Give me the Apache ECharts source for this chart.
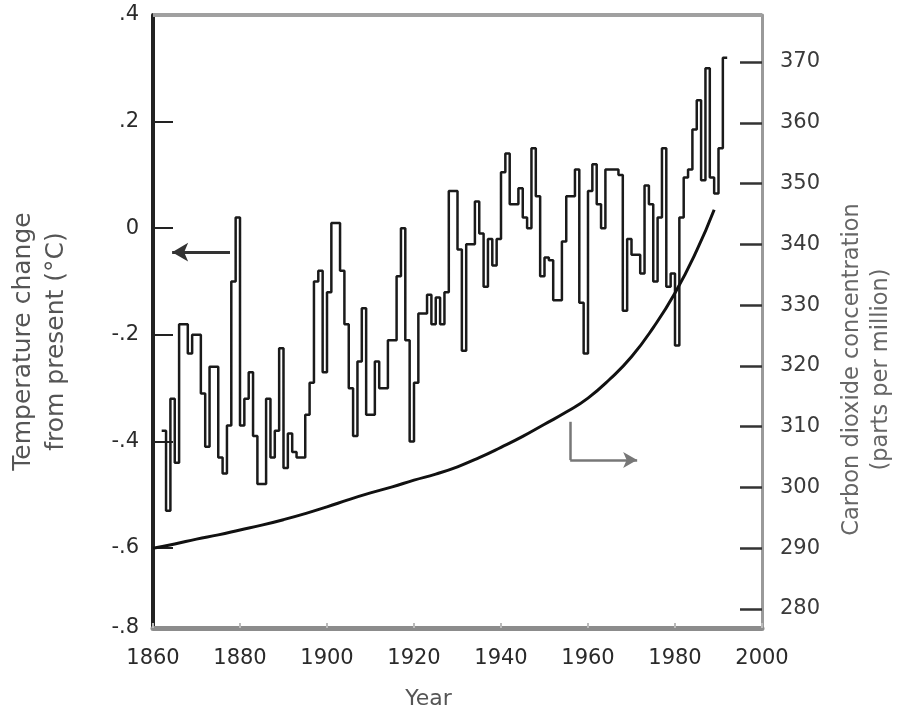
<!DOCTYPE html>
<html>
<head>
<meta charset="utf-8">
<script src="https://cdn.jsdelivr.net/npm/echarts@6/dist/echarts.min.js"></script>
<style>
html,body{margin:0;padding:0;background:#fff;}
#chart{width:900px;height:724px;}
</style>
</head>
<body>
<div id="chart"></div>
<script>
// ---- data ----
const tempYears = [
1862,1863,1864,1865,1866,1867,1868,1869,1870,1871,1872,1873,1874,1875,1876,1877,1878,1879,1880,
1881,1882,1883,1884,1885,1886,1887,1888,1889,1890,1891,1892,1893,1894,1895,1896,1897,1898,1899,1900,
1901,1902,1903,1904,1905,1906,1907,1908,1909,1910,1911,1912,1913,1914,1915,1916,1917,1918,1919,1920,
1921,1922,1923,1924,1925,1926,1927,1928,1929,1930,1931,1932,1933,1934,1935,1936,1937,1938,1939,1940,
1941,1942,1943,1944,1945,1946,1947,1948,1949,1950,1951,1952,1953,1954,1955,1956,1957,1958,1959,1960,
1961,1962,1963,1964,1965,1966,1967,1968,1969,1970,1971,1972,1973,1974,1975,1976,1977,1978,1979,1980,
1981,1982,1983,1984,1985,1986,1987,1988,1989,1990,1991,1992];
const tempChange = [
-0.38,-0.53,-0.32,-0.44,-0.18,-0.18,-0.235,-0.20,-0.20,-0.31,-0.41,-0.26,-0.26,-0.43,-0.46,-0.37,-0.10,0.02,-0.37,
-0.32,-0.27,-0.39,-0.48,-0.48,-0.32,-0.43,-0.38,-0.225,-0.45,-0.385,-0.42,-0.43,-0.43,-0.35,-0.29,-0.10,-0.08,-0.27,-0.12,
0.01,0.01,-0.08,-0.18,-0.30,-0.39,-0.25,-0.15,-0.35,-0.35,-0.25,-0.30,-0.30,-0.21,-0.21,-0.09,0.0,-0.21,-0.40,-0.29,
-0.16,-0.16,-0.125,-0.18,-0.13,-0.18,-0.12,0.07,0.07,-0.04,-0.23,-0.03,-0.03,0.05,-0.01,-0.11,-0.02,-0.07,-0.02,0.105,
0.14,0.045,0.045,0.075,0.02,0.0,0.15,0.06,-0.09,-0.055,-0.06,-0.135,-0.135,-0.025,0.06,0.06,0.11,-0.14,-0.235,0.07,
0.12,0.045,0.0,0.11,0.11,0.11,0.10,-0.155,-0.02,-0.05,-0.05,-0.085,0.08,0.045,-0.10,0.02,0.15,-0.11,-0.085,-0.22,
0.02,0.095,0.11,0.185,0.24,0.09,0.30,0.095,0.065,0.15,0.32,0.32];

const co2Years = [1860,1865,1870,1875,1880,1885,1890,1895,1900,1905,1910,1915,1920,1925,1930,1935,1940,1945,1950,1955,1960,1965,1970,1975,1980,1985,1989];
const co2Ppm   = [290.0,290.7,291.5,292.2,293.0,293.8,294.7,295.7,296.8,298.0,299.1,300.1,301.2,302.2,303.4,304.9,306.6,308.4,310.4,312.4,314.7,317.8,321.5,326.3,332.0,339.0,345.7];

const yearTicks = [1860,1880,1900,1920,1940,1960,1980,2000];
const leftTickValues = [0.4,0.2,0,-0.2,-0.4,-0.6,-0.75];
const leftTickLabels = ['.4','.2','0','-.2','-.4','-.6','-.8'];
const rightTickValues = [280,290,300,310,320,330,340,350,360,370];

// annotation arrows (in data units)
const leftArrow = {from:[1877.7,-0.045], to:[1864.4,-0.045]};
const rightArrow = {corner:[1955.9,304.5], top:[1955.9,310.8], tip:[1971.3,304.5]};

const chart = echarts.init(document.getElementById('chart'), null, {renderer:'canvas'});
const FONT = 'DejaVu Sans';
const labelColor = '#2a2a2a';

const option = {
  backgroundColor:'#fff',
  animation:false,
  grid:{left:153,right:138,top:15,bottom:96,show:false,containLabel:false,outerBoundsMode:'none'},
  xAxis:{
    type:'value',min:1860,max:2000,
    axisLabel:{customValues:yearTicks,fontFamily:FONT,fontSize:21,color:labelColor,margin:20,
      formatter:function(v){return String(v);}},
    axisTick:{customValues:yearTicks,inside:true,length:5,lineStyle:{color:'#bbb',width:2}},
    axisLine:{onZero:false,lineStyle:{color:'#8c8c8c',width:5}},
    splitLine:{show:false},
    name:'Year',nameLocation:'middle',nameGap:60,
    nameTextStyle:{fontFamily:FONT,fontSize:22,color:'#555',padding:[0,58,0,0]}
  },
  yAxis:[{
    type:'value',min:-0.75,max:0.4,position:'left',
    axisLabel:{customValues:leftTickValues,fontFamily:FONT,fontSize:21,color:labelColor,margin:14,
      formatter:function(v){const i=leftTickValues.findIndex(t=>Math.abs(t-v)<1e-9);return i>=0?leftTickLabels[i]:'';}},
    axisTick:{customValues:leftTickValues.slice(0,6),inside:true,length:20,lineStyle:{color:'#222',width:2}},
    axisLine:{onZero:false,lineStyle:{color:'#222',width:4}},
    splitLine:{show:false},
    name:'Temperature change\nfrom present (°C)',nameLocation:'middle',nameRotate:90,nameGap:80,
    nameTextStyle:{fontFamily:FONT,fontSize:25,color:'#555',lineHeight:33,align:'center',padding:[0,40,0,0]}
  },{
    type:'value',min:276.875,max:377.73,position:'right',
    axisLabel:{customValues:rightTickValues,fontFamily:FONT,fontSize:21,color:'#3a3a3a',margin:18},
    axisTick:{customValues:rightTickValues,inside:true,length:22,lineStyle:{color:'#333',width:2.5}},
    axisLine:{onZero:false,lineStyle:{color:'#9a9a9a',width:3}},
    splitLine:{show:false},
    name:'Carbon dioxide concentration\n(parts per million)',nameLocation:'middle',nameRotate:90,nameGap:76,
    nameTextStyle:{fontFamily:FONT,fontSize:22.5,color:'#666',lineHeight:29,align:'center',padding:[0,96,0,0]}
  }],
  series:[{
    name:'Temperature change',type:'line',yAxisIndex:0,step:'end',showSymbol:false,
    data:tempYears.map((y,i)=>[y,tempChange[i]]),
    lineStyle:{color:'#1a1a1a',width:2.5},
    markLine:{silent:true,symbol:['arrow','none'],symbolSize:[14,16],
      lineStyle:{color:'#333',width:3,type:'solid'},label:{show:false},
      data:[[{coord:leftArrow.from,symbol:'none'},{coord:leftArrow.to,symbol:'arrow'}]]}
  },{
    name:'CO2',type:'line',yAxisIndex:1,smooth:true,showSymbol:false,
    data:co2Years.map((y,i)=>[y,co2Ppm[i]]),
    lineStyle:{color:'#111',width:3},
    markLine:{silent:true,symbol:'none',
      lineStyle:{color:'#777',width:2.5,type:'solid'},label:{show:false},
      data:[
        [{coord:rightArrow.top},{coord:rightArrow.corner}],
        [{coord:rightArrow.corner},{coord:rightArrow.tip,symbol:'arrow',symbolSize:[12,14]}]
      ]}
  }],
  graphic:[{
    type:'line',shape:{x1:153,y1:15,x2:762,y2:15},style:{stroke:'#a0a0a0',lineWidth:4},z:10
  }]
};
chart.setOption(option);
</script>
</body>
</html>
